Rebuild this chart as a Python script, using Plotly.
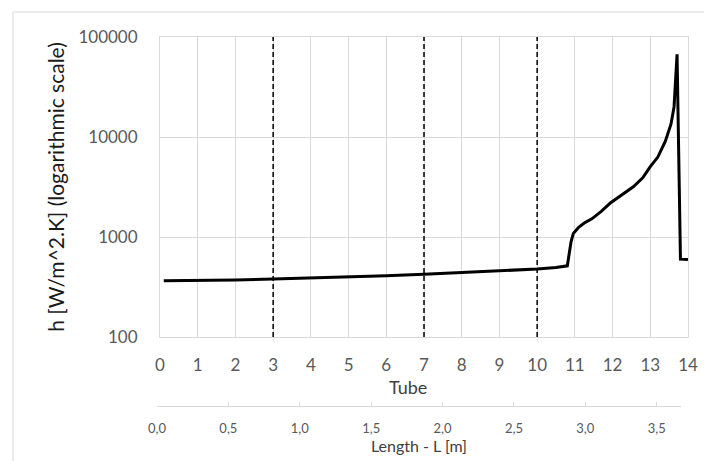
import plotly.graph_objects as go

# ---- data ----
tube = [0.1, 1, 2, 3, 4, 5, 6, 7, 8, 9, 10, 10.5, 10.8, 10.9, 10.96, 11.1, 11.25,
        11.45, 11.7, 11.95, 12.25, 12.55, 12.8, 13.0, 13.2, 13.4, 13.55, 13.63,
        13.71, 13.8, 14.0]
h_values = [365, 367, 372, 380, 388, 398, 410, 425, 440, 458, 478, 495, 515, 900,
            1085, 1250, 1380, 1520, 1800, 2200, 2650, 3180, 3900, 5050, 6300, 9100,
            13500, 20000, 67000, 600, 595]
dividers = [3, 7, 10]
length_range = [0, 3.67]
length_ticks = [0, 0.5, 1.0, 1.5, 2.0, 2.5, 3.0, 3.5]
y_ticks = [100, 1000, 10000, 100000]

OFF = 8  # page body margin
W, H = 712 - OFF, 461 - OFF
ML, MR, MT, MB = 157 - OFF, 24, 37 - OFF, 55
pw, ph = W - ML - MR, H - MT - MB
plot_left, plot_bottom, len_right = 160 - OFF, 337 - OFF, 681 - OFF
paper_bottom = H - MB

grid = "#d9d9d9"
font = "Lato"

fig = go.Figure()
fig.add_trace(go.Scatter(x=tube, y=h_values, mode="lines",
                         line=dict(color="black", width=3),
                         xaxis="x", yaxis="y", showlegend=False))
fig.add_trace(go.Scatter(x=length_range, y=[0, 0], mode="lines",
                         line=dict(width=0), opacity=0, hoverinfo="skip",
                         xaxis="x2", yaxis="y2", showlegend=False))

for d in dividers:
    fig.add_shape(type="line", xref="x", yref="y domain", x0=d, x1=d, y0=0, y1=1,
                  line=dict(color="black", width=1.5, dash="5px,3px"))

# outer chart border
fig.add_shape(type="rect", xref="paper", yref="paper", layer="below",
              x0=(13 - OFF - ML) / pw, x1=(W + 5 - ML) / pw,
              y0=-(H + 5 - paper_bottom) / ph, y1=(paper_bottom - (12 - OFF)) / ph,
              line=dict(color=grid, width=1), fillcolor="rgba(0,0,0,0)")

fig.add_annotation(text="Tube", xref="paper", yref="paper",
                   x=(408 - OFF - ML) / pw, y=(paper_bottom - (387 - OFF)) / ph,
                   showarrow=False, xanchor="center", yanchor="middle",
                   font=dict(family=font, size=18, color="#404040"))

fig.update_layout(
    width=W, height=H,
    margin=dict(l=ML, r=MR, t=MT, b=MB, autoexpand=False),
    paper_bgcolor="white", plot_bgcolor="rgba(0,0,0,0)",
    separators=",.",
    font=dict(family=font, color="#595959"),
    xaxis=dict(domain=[(plot_left - ML) / pw, 1], range=[0, 14], dtick=1,
               showgrid=True, gridcolor=grid, gridwidth=1, zeroline=False,
               showline=True, linecolor=grid, mirror=True,
               ticks="", ticklabelstandoff=13,
               tickfont=dict(family=font, size=17, color="#595959"),
               anchor="y"),
    yaxis=dict(domain=[(paper_bottom - plot_bottom) / ph, 1], type="log", range=[2, 5],
               tickvals=y_ticks, tickformat="d",
               showgrid=True, gridcolor=grid, gridwidth=1, zeroline=False,
               showline=True, linecolor=grid, mirror=True,
               ticks="", ticklabelstandoff=18,
               tickfont=dict(family=font, size=17, color="#595959"),
               title=dict(text="h [W/m^2.K] (logarithmic scale)", standoff=8,
                          font=dict(family=font, size=21, color="#1a1a1a")),
               anchor="x"),
    xaxis2=dict(domain=[0, (len_right - ML) / pw], range=length_range,
                tickvals=length_ticks, tickformat=".1f",
                showgrid=False, zeroline=False, showline=True, linecolor=grid,
                ticks="inside", ticklen=4, tickcolor=grid,
                ticklabelstandoff=10,
                tickfont=dict(family=font, size=13, color="#595959"),
                title=dict(text="Length - L [m]", standoff=6,
                           font=dict(family=font, size=16, color="#404040")),
                anchor="y2"),
    yaxis2=dict(domain=[0, 0.02], visible=False, range=[-1, 1], anchor="x2"),
)

fig.write_html("out.html")
